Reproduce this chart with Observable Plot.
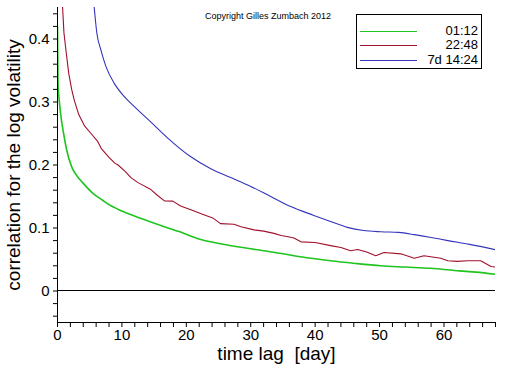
<!DOCTYPE html>
<html>
<head>
<meta charset="utf-8">
<script src="https://cdn.jsdelivr.net/npm/d3@7"></script>
<script src="https://cdn.jsdelivr.net/npm/@observablehq/plot@0.6"></script>
<style>
  html, body { margin: 0; padding: 0; background: #fff; }
  #wrap { position: relative; width: 512px; height: 366px; font-family: "Liberation Sans", Arial, sans-serif; }
  #copy { position: absolute; left: 205px; top: 11px; font-size: 9px; line-height: 10px; color: #000; white-space: nowrap; }
  #legend { position: absolute; left: 356px; top: 14px; width: 124px; height: 53px; border: 1px solid #000; background: #fff; }
  .lg-row { position: absolute; left: 0; width: 124px; height: 14px; }
  .lg-line { position: absolute; left: 3px; width: 57px; top: 7px; height: 0; border-top: 1px solid; }
  .lg-text { position: absolute; right: 3px; top: 0; font-size: 13px; line-height: 14px; color: #000; white-space: nowrap; }
</style>
</head>
<body>
<div id="wrap"></div>
<script>
// ---- data ----
const seriesNames = ["01:12", "22:48", "7d 14:24"];
const seriesColors = ["#1fc41f", "#a0102c", "#3434bc"];

const lagGreen = [0, 0.08, 0.25, 0.5, 0.95, 1.4, 2.2, 3.0, 3.9, 5.5, 7, 8, 10, 13, 16.6, 19, 21.7, 25.3, 30, 34.7, 38, 42.4, 46, 50.2, 54, 57.9, 62.4, 65, 68];
const valGreen = [0.42, 0.33, 0.305, 0.28, 0.25, 0.225, 0.197, 0.183, 0.172, 0.155, 0.144, 0.137, 0.127, 0.115, 0.102, 0.094, 0.0835, 0.075, 0.067, 0.0596, 0.054, 0.048, 0.044, 0.040, 0.038, 0.036, 0.032, 0.030, 0.0266];

const lagRed = [0.6, 0.78, 1.0, 1.3, 1.75, 2.2, 2.6, 3.3, 4.2, 5.2, 6.2, 6.8, 8, 8.9, 9.4, 10.5, 11.4, 12.5, 14.5, 15.5, 16.6, 17.9, 19.1, 20.7, 22.3, 24.1, 25.3, 27.4, 28.5, 30.5, 32, 33.6, 34.7, 35.8, 36.7, 37.8, 40, 42.4, 44, 45.5, 46.6, 48, 49.4, 50.7, 53.3, 55.4, 56.9, 59.5, 60.6, 62, 63.7, 65.7, 67.3, 68];
const valRed = [0.48, 0.452, 0.41, 0.383, 0.345, 0.32, 0.303, 0.28, 0.262, 0.25, 0.238, 0.226, 0.212, 0.203, 0.200, 0.19, 0.18, 0.172, 0.161, 0.152, 0.143, 0.1427, 0.135, 0.129, 0.1225, 0.116, 0.107, 0.106, 0.102, 0.097, 0.095, 0.0915, 0.088, 0.086, 0.084, 0.078, 0.077, 0.072, 0.069, 0.064, 0.066, 0.062, 0.056, 0.061, 0.059, 0.052, 0.056, 0.052, 0.048, 0.047, 0.048, 0.048, 0.039, 0.038];

const lagBlue = [5.5, 5.68, 6.1, 6.72, 7.5, 8.79, 10.34, 11.89, 14.3, 17.2, 20.7, 23.8, 26.9, 30, 33.1, 36.2, 39.8, 42.5, 45, 47.5, 50.2, 53, 55.4, 58, 60.6, 64, 68];
const valBlue = [0.47, 0.452, 0.41, 0.383, 0.357, 0.330, 0.309, 0.293, 0.27, 0.242, 0.213, 0.194, 0.180, 0.166, 0.150, 0.134, 0.12, 0.11, 0.101, 0.096, 0.094, 0.093, 0.0895, 0.085, 0.080, 0.074, 0.0655];

const xTicks = d3.range(0, 69, 2);
const xLabelTicks = [0, 10, 20, 30, 40, 50, 60];
const yTicks = d3.range(-4, 45, 2).map(d => +(d / 100).toFixed(2));
const yLabelTicks = [0, 0.1, 0.2, 0.3, 0.4];
const xDomain = [0, 68];
const yDomain = [-0.05, 0.45];
const xTitle = "time lag  [day]";
const yTitle = "correlation for the log volatility";
const copyright = "Copyright Gilles Zumbach 2012";

// ---- build table ----
const lags = [lagGreen, lagRed, lagBlue];
const vals = [valGreen, valRed, valBlue];
const rows = [];
seriesNames.forEach((name, i) => {
  lags[i].forEach((x, j) => rows.push({series: name, lag: x, value: vals[i][j]}));
});

const fmtX = d => xLabelTicks.includes(d) ? String(d) : "";
const fmtY = d => yLabelTicks.some(t => Math.abs(t - d) < 1e-9) ? (d === 0 ? "0" : d.toFixed(1)) : "";
const curves = ["monotone-x", "linear", "monotone-x"];

const chart = Plot.plot({
  width: 512,
  height: 366,
  marginLeft: 57,
  marginRight: 17,
  marginTop: 7,
  marginBottom: 44,
  style: {fontFamily: "'Liberation Sans', Arial, sans-serif", background: "#fff", color: "#000", overflow: "visible"},
  x: {domain: xDomain},
  y: {domain: yDomain},
  color: {domain: seriesNames, range: seriesColors},
  marks: [
    Plot.ruleY([0], {stroke: "#000", strokeWidth: 1, dy: -0.5}),
    ...seriesNames.map((name, i) => Plot.line(rows.filter(r => r.series === name), {
      x: "lag", y: "value", stroke: seriesColors[i], strokeWidth: i === 0 ? 1.6 : 1.1, clip: true, curve: curves[i]
    })),
    Plot.ruleX([xDomain[0]], {stroke: "#000", strokeWidth: 1}),
    Plot.ruleY([yDomain[0]], {stroke: "#000", strokeWidth: 1}),
    Plot.axisX({ticks: xTicks, tickSize: 5, tickPadding: 2, tickFormat: fmtX, fontSize: 15, label: null, stroke: "#000", color: "#000"}),
    Plot.axisY({ticks: yTicks, tickSize: 4, tickPadding: 4, tickFormat: fmtY, fontSize: 15, label: null, stroke: "#000", color: "#000"}),
    Plot.text([xTitle], {frameAnchor: "bottom", lineAnchor: "middle", textAnchor: "middle", dy: 31.5, fontSize: 19, fill: "#000"}),
    Plot.text([yTitle], {frameAnchor: "left", lineAnchor: "middle", textAnchor: "middle", dx: -44, rotate: -90, fontSize: 19, fill: "#000"})
  ]
});

const wrap = document.getElementById("wrap");
wrap.appendChild(chart);

const cp = document.createElement("div");
cp.id = "copy";
cp.textContent = copyright;
wrap.appendChild(cp);

const lg = document.createElement("div");
lg.id = "legend";
const rowTops = [9, 23, 38];
seriesNames.forEach((name, i) => {
  const r = document.createElement("div");
  r.className = "lg-row";
  r.style.top = rowTops[i] + "px";
  const l = document.createElement("div");
  l.className = "lg-line";
  l.style.borderTopColor = seriesColors[i];
  const t = document.createElement("div");
  t.className = "lg-text";
  t.textContent = name;
  r.appendChild(l);
  r.appendChild(t);
  lg.appendChild(r);
});
wrap.appendChild(lg);
</script>
</body>
</html>
